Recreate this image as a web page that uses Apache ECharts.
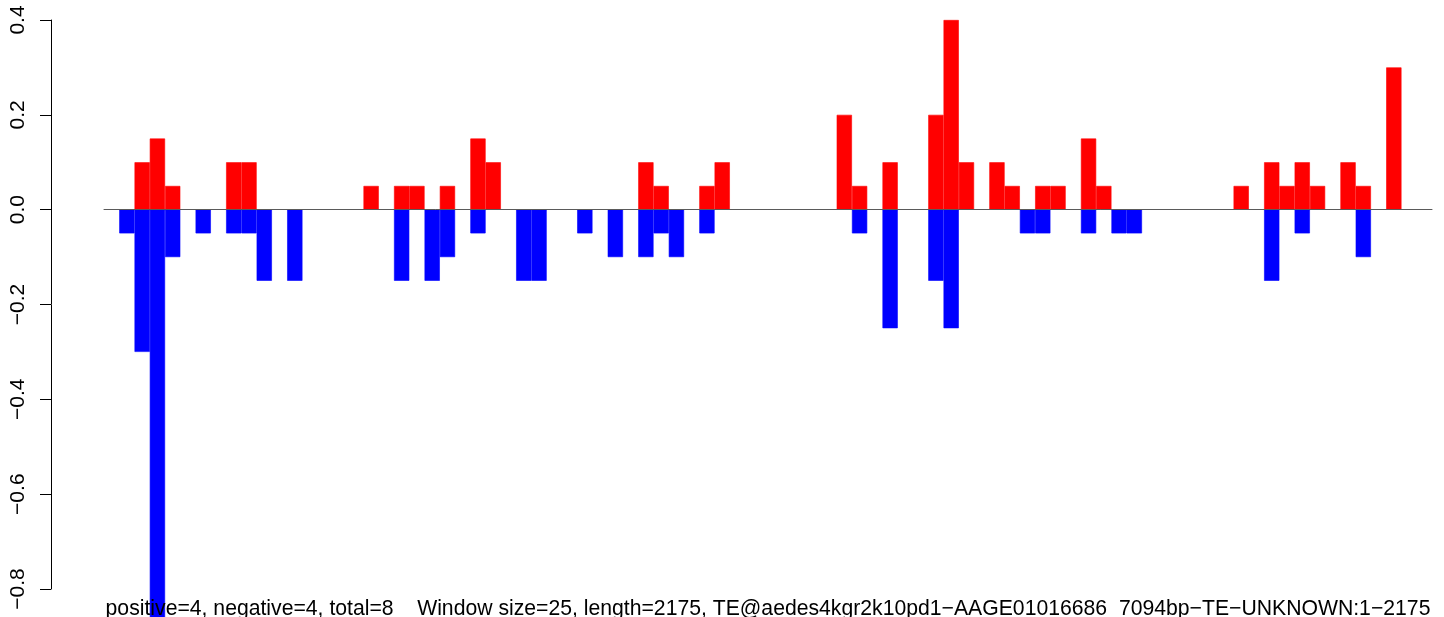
<!DOCTYPE html>
<html>
<head>
<meta charset="utf-8">
<script src="https://cdn.jsdelivr.net/npm/echarts@6/dist/echarts.min.js"></script>
<style>
  html, body { margin: 0; padding: 0; background: #fff; }
  #main { width: 1444px; height: 617px; }
</style>
</head>
<body>
<div id="main"></div>
<script>
// window scores, 87 windows of 25bp (index 0 = first window)
var posValues = [
  0, 0, 0.1, 0.15, 0.05, 0, 0, 0, 0.1, 0.1,
  0, 0, 0, 0, 0, 0, 0, 0.05, 0, 0.05,
  0.05, 0, 0.05, 0, 0.15, 0.1, 0, 0, 0, 0,
  0, 0, 0, 0, 0, 0.1, 0.05, 0, 0, 0.05,
  0.1, 0, 0, 0, 0, 0, 0, 0, 0.2, 0.05,
  0, 0.1, 0, 0, 0.2, 0.4, 0.1, 0, 0.1, 0.05,
  0, 0.05, 0.05, 0, 0.15, 0.05, 0, 0, 0, 0,
  0, 0, 0, 0, 0.05, 0, 0.1, 0.05, 0.1, 0.05,
  0, 0.1, 0.05, 0, 0.3, 0, 0
];
var negValues = [
  0, -0.05, -0.3, -0.9, -0.1, 0, -0.05, 0, -0.05, -0.05,
  -0.15, 0, -0.15, 0, 0, 0, 0, 0, 0, -0.15,
  0, -0.15, -0.1, 0, -0.05, 0, 0, -0.15, -0.15, 0,
  0, -0.05, 0, -0.1, 0, -0.1, -0.05, -0.1, 0, -0.05,
  0, 0, 0, 0, 0, 0, 0, 0, 0, -0.05,
  0, -0.25, 0, 0, -0.15, -0.25, 0, 0, 0, 0,
  -0.05, -0.05, 0, 0, -0.05, 0, -0.05, -0.05, 0, 0,
  0, 0, 0, 0, 0, 0, -0.15, 0, -0.05, 0,
  0, 0, -0.1, 0, 0, 0, 0
];
var windows = [];
for (var i = 0; i < posValues.length; i++) windows.push(String(i + 1));

var subText = 'positive=4, negative=4, total=8    Window size=25, length=2175, TE@aedes4kgr2k10pd1\u2212AAGE01016686_7094bp\u2212TE\u2212UNKNOWN:1\u22122175';

// empty windows draw no bar
function noZero(arr) {
    return arr.map(function (v) { return v === 0 ? null : v; });
}

var chartDom = document.getElementById('main');
var myChart = echarts.init(chartDom);
var option;
option = {
    animation: false,
    textStyle: { fontFamily: 'Liberation Sans' },
    grid: {
        left: 104,
        right: 12,
        top: 20,
        bottom: 28,
        containLabel: false
    },
    xAxis: {
        type: 'category',
        data: windows,
        z: 5,
        axisLine: { onZero: true, lineStyle: { color: '#5a5a5a', width: 1 } },
        axisTick: { show: false },
        axisLabel: { show: false },
        splitLine: { show: false }
    },
    yAxis: {
        type: 'value',
        min: -0.8,
        max: 0.4,
        interval: 0.2,
        offset: 53,
        axisLine: { show: true, lineStyle: { color: '#000', width: 1 } },
        axisTick: { show: true, length: 11, lineStyle: { color: '#000' } },
        splitLine: { show: false },
        axisLabel: {
            rotate: 90,
            margin: 22,
            fontSize: 21,
            color: '#000',
            formatter: function (v) {
                return (v < 0 ? '\u2212' : '') + Math.abs(v).toFixed(1);
            }
        }
    },
    graphic: [{
        type: 'text',
        z: 100,
        x: 768,
        y: 609,
        style: {
            text: subText,
            fill: '#000',
            font: '21.2px "Liberation Sans"',
            align: 'center',
            verticalAlign: 'middle'
        }
    }],
    series: [
        {
            name: 'positive',
            type: 'bar',
            data: noZero(posValues),
            barCategoryGap: '0%',
            barGap: '-100%',
            clip: false,
            itemStyle: { color: '#ff0000', borderColor: '#ff0000', borderWidth: 0.6 }
        },
        {
            name: 'negative',
            type: 'bar',
            data: noZero(negValues),
            barCategoryGap: '0%',
            barGap: '-100%',
            clip: false,
            itemStyle: { color: '#0000ff', borderColor: '#0000ff', borderWidth: 0.6 }
        }
    ]
};
option && myChart.setOption(option);
</script>
</body>
</html>
